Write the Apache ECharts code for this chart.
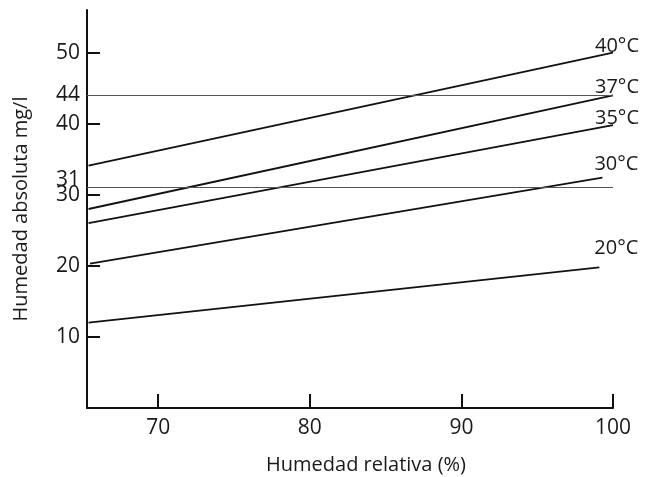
<!DOCTYPE html>
<html>
<head>
<meta charset="utf-8">
<script src="https://cdn.jsdelivr.net/npm/echarts@6/dist/echarts.min.js"></script>
<style>
html,body{margin:0;padding:0;background:#fff;}
#chart{width:659px;height:477px;}
</style>
</head>
<body>
<div id="chart"></div>
<script>
// ---- data ----
const tempLabels = ['40°C', '37°C', '35°C', '30°C', '20°C'];
const startX = [65.4, 65.4, 65.4, 65.5, 65.4];
const startY = [34.1, 28.0, 26.0, 20.3, 12.0];
const endX = [100, 100, 100, 99.3, 99.1];
const endY = [50, 44, 39.8, 32.4, 19.8];
const refLines = [44, 31];
const xTicks = [70, 80, 90, 100];
const yTicks = [10, 20, 30, 40, 50];
const xTitle = 'Humedad relativa (%)';
const yTitle = 'Humedad absoluta mg/l';

// ---- styling ----
const FONT = 'Open Sans';
const TXT = '#1a1a1a';
const TICK_FS = 21;
const labelOffsets = [[-18, -6], [-18, -8], [-18, -7], [-8, -13], [-5, -19]];
const refLabelOffsets = [[0, 0], [0, -8]];

const chart = echarts.init(document.getElementById('chart'), null, {renderer: 'canvas'});

const lineSeries = tempLabels.map((t, i) => ({
  type: 'line',
  name: t,
  data: [[startX[i], startY[i]], [endX[i], endY[i]]],
  symbol: 'none',
  lineStyle: {color: '#111', width: 1.8},
  silent: true,
  z: 3
}));

const labelSeries = {
  type: 'scatter',
  symbolSize: 0,
  silent: true,
  itemStyle: {opacity: 1, color: '#111'},
  data: tempLabels.map((t, i) => ({
    value: [endX[i], endY[i]],
    name: t,
    label: {
      show: true,
      formatter: t,
      position: labelOffsets[i],
      align: 'left',
      verticalAlign: 'middle',
      fontFamily: FONT,
      fontSize: 20,
      color: TXT,
      opacity: 1
    }
  })),
  z: 4
};

const refSeries = {
  type: 'line',
  data: [],
  silent: true,
  markLine: {
    silent: true,
    symbol: ['none', 'none'],
    animation: false,
    lineStyle: {color: '#555', width: 1, type: 'solid'},
    label: {
      position: 'start',
      distance: 7,
      fontFamily: FONT,
      fontSize: TICK_FS,
      color: TXT
    },
    data: refLines.map((v, i) => ({
      yAxis: v,
      label: {formatter: String(v), offset: refLabelOffsets[i]}
    }))
  }
};

chart.setOption({
  animation: false,
  backgroundColor: '#fff',
  grid: {left: 87, right: 46, top: 10, bottom: 69, containLabel: false, outerBoundsMode: 'none'},
  xAxis: {
    type: 'value',
    min: 65.3,
    max: 100,
    name: xTitle,
    nameLocation: 'middle',
    nameGap: 47,
    nameTextStyle: {fontFamily: FONT, fontSize: 20, color: TXT, padding: [0, 0, 0, 32]},
    axisLine: {show: true, lineStyle: {color: '#111', width: 2}},
    axisTick: {show: true, inside: true, length: 14, customValues: xTicks, lineStyle: {color: '#111', width: 2}},
    axisLabel: {customValues: xTicks, margin: 10, fontFamily: FONT, fontSize: TICK_FS, color: TXT},
    splitLine: {show: false}
  },
  yAxis: {
    type: 'value',
    min: 0,
    max: 56,
    name: yTitle,
    nameLocation: 'middle',
    nameGap: 56,
    nameRotate: 90,
    nameTextStyle: {fontFamily: FONT, fontSize: 20, color: TXT},
    axisLine: {show: true, lineStyle: {color: '#111', width: 2}},
    axisTick: {show: true, inside: true, length: 13, customValues: yTicks, lineStyle: {color: '#111', width: 2}},
    axisLabel: {customValues: yTicks, margin: 7, fontFamily: FONT, fontSize: TICK_FS, color: TXT},
    splitLine: {show: false}
  },
  series: [...lineSeries, labelSeries, refSeries]
});
</script>
</body>
</html>
